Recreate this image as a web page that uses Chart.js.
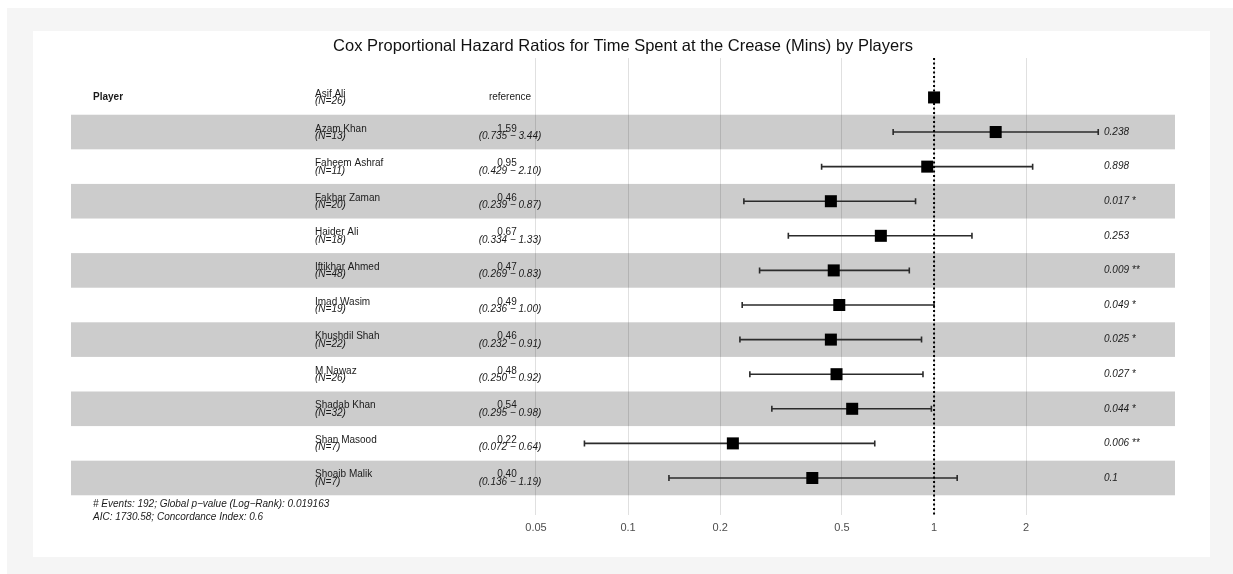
<!DOCTYPE html>
<html>
<head>
<meta charset="utf-8">
<title>Cox hazard ratios by player</title>
<script src="https://cdn.jsdelivr.net/npm/chart.js@4.4.1/dist/chart.umd.min.js"></script>
<style>
  body { margin: 0; background: #fff; }
  #frame { position: absolute; left: 7px; top: 8px; width: 1226px; height: 566px; background: #f5f5f5; }
  #card { position: absolute; left: 33px; top: 31px; width: 1177px; height: 526px; background: #fff; }
  #forestChart { position: absolute; left: 0; top: 0; }
</style>
</head>
<body>
<div id="frame"></div>
<div id="card"></div>
<canvas id="forestChart" width="1233" height="574"></canvas>
<script>
// model output, one entry per player (first one is the reference level)
const players = ["Asif Ali", "Azam Khan", "Faheem Ashraf", "Fakhar Zaman", "Haider Ali", "Iftikhar Ahmed",
  "Imad Wasim", "Khushdil Shah", "M Nawaz", "Shadab Khan", "Shan Masood", "Shoaib Malik"];
const counts = [26, 13, 11, 20, 18, 48, 19, 22, 26, 32, 7, 7];
const hazardRatio = [1, 1.59, 0.95, 0.46, 0.67, 0.47, 0.49, 0.46, 0.48, 0.54, 0.22, 0.40];
const ciLow = [null, 0.735, 0.429, 0.239, 0.334, 0.269, 0.236, 0.232, 0.250, 0.295, 0.072, 0.136];
const ciHigh = [null, 3.44, 2.10, 0.87, 1.33, 0.83, 1.00, 0.91, 0.92, 0.98, 0.64, 1.19];
const pValues = [null, 0.238, 0.898, 0.017, 0.253, 0.009, 0.049, 0.025, 0.027, 0.044, 0.006, 0.1];

const xTicks = [0.05, 0.1, 0.2, 0.5, 1, 2];
const refLine = 1;

const chartTitle = "Cox Proportional Hazard Ratios for Time Spent at the Crease (Mins) by Players";
const varName = "Player";
const footerLines = [
  "# Events: 192; Global p\u2212value (Log\u2212Rank): 0.019163",
  "AIC: 1730.58; Concordance Index: 0.6"
];

const FONT = '"Liberation Sans", Arial, Helvetica, sans-serif';

function stars(p) {
  if (p < 0.001) return " ***";
  if (p < 0.01) return " **";
  if (p < 0.05) return " *";
  return "";
}

// grey stripes behind every second row, under the grid
const rowBands = {
  id: "rowBands",
  beforeDraw(chart) {
    const { ctx, chartArea, scales: { y } } = chart;
    ctx.save();
    ctx.fillStyle = "#cccccc";
    players.forEach((p, i) => {
      if (i % 2 === 0) return;
      const top = y.getPixelForValue(i - 0.5);
      const bottom = y.getPixelForValue(i + 0.5);
      ctx.fillRect(chartArea.left, top, chartArea.right - chartArea.left, bottom - top);
    });
    ctx.restore();
  }
};

// confidence intervals + dotted line at HR = 1
const errorBars = {
  id: "errorBars",
  beforeDatasetsDraw(chart) {
    const { ctx, chartArea, scales: { x, y } } = chart;
    ctx.save();
    ctx.strokeStyle = "#2b2b2b";
    ctx.lineWidth = 1.6;
    players.forEach((p, i) => {
      if (ciLow[i] == null) return;
      const x0 = x.getPixelForValue(ciLow[i]);
      const x1 = x.getPixelForValue(ciHigh[i]);
      const yy = y.getPixelForValue(i);
      ctx.beginPath();
      ctx.moveTo(x0, yy); ctx.lineTo(x1, yy);
      ctx.moveTo(x0, yy - 3); ctx.lineTo(x0, yy + 3);
      ctx.moveTo(x1, yy - 3); ctx.lineTo(x1, yy + 3);
      ctx.stroke();
    });
    const xr = x.getPixelForValue(refLine);
    ctx.strokeStyle = "#000";
    ctx.lineWidth = 2;
    ctx.setLineDash([2, 2.5]);
    ctx.beginPath();
    ctx.moveTo(xr, chartArea.top);
    ctx.lineTo(xr, chartArea.bottom);
    ctx.stroke();
    ctx.restore();
  }
};

// table columns: variable, player + N, estimate + CI, p-value, footer
const tableText = {
  id: "tableText",
  afterDatasetsDraw(chart) {
    const { ctx, scales: { y } } = chart;
    const nameX = 315, estX = 510, pX = 1104;
    ctx.save();
    ctx.fillStyle = "#1a1a1a";

    ctx.font = "bold 10px " + FONT;
    ctx.textAlign = "left";
    ctx.textBaseline = "middle";
    ctx.fillText(varName, 93, y.getPixelForValue(0));

    players.forEach((name, i) => {
      const yy = y.getPixelForValue(i);
      ctx.textBaseline = "alphabetic";
      ctx.textAlign = "left";
      ctx.font = "10px " + FONT;
      ctx.fillText(name, nameX, yy - 0.5);
      ctx.font = "italic 10px " + FONT;
      ctx.fillText("(N=" + counts[i] + ")", nameX, yy + 7);

      ctx.textAlign = "center";
      if (ciLow[i] == null) {
        ctx.font = "10px " + FONT;
        ctx.textBaseline = "middle";
        ctx.fillText("reference", estX, yy);
      } else {
        ctx.font = "10px " + FONT;
        ctx.fillText(hazardRatio[i].toFixed(2), estX - 3, yy - 0.5);
        ctx.font = "italic 10px " + FONT;
        ctx.fillText("(" + ciLow[i].toFixed(3) + " \u2212 " + ciHigh[i].toFixed(2) + ")", estX, yy + 7);
      }

      if (pValues[i] != null) {
        ctx.textAlign = "left";
        ctx.textBaseline = "middle";
        ctx.font = "italic 10px " + FONT;
        ctx.fillText(String(pValues[i]) + stars(pValues[i]), pX, yy);
      }
    });

    ctx.textAlign = "left";
    ctx.textBaseline = "alphabetic";
    ctx.font = "italic 10px " + FONT;
    ctx.fillText(footerLines[0], 93, 507);
    ctx.fillText(footerLines[1], 93, 520);
    ctx.restore();
  }
};

const ctx = document.getElementById("forestChart").getContext("2d");
new Chart(ctx, {
  type: "scatter",
  data: {
    datasets: [{
      label: "Hazard ratio",
      data: hazardRatio.map((v, i) => ({ x: v, y: i })),
      pointStyle: "rect",
      pointRadius: 8.5,
      pointHoverRadius: 8.5,
      backgroundColor: "#000",
      borderWidth: 0
    }]
  },
  options: {
    responsive: false,
    devicePixelRatio: 1,
    animation: false,
    layout: { padding: { left: 71, right: 58, top: 0, bottom: 34 } },
    plugins: {
      legend: { display: false },
      tooltip: { enabled: false },
      title: {
        display: true,
        text: chartTitle,
        color: "#111",
        font: { family: FONT, size: 16.5, weight: "normal" },
        padding: { top: 37, bottom: 1.2 }
      }
    },
    scales: {
      x: {
        type: "logarithmic",
        min: 0.001511,
        max: 6.13,
        border: { display: false },
        grid: { color: "rgba(0,0,0,0.12)", lineWidth: 1, drawTicks: false },
        afterBuildTicks: s => { s.ticks = xTicks.map(v => ({ value: v })); },
        afterFit: s => { s.height = 25; },
        ticks: {
          autoSkip: false,
          maxRotation: 0,
          padding: 6,
          color: "#4d4d4d",
          font: { family: FONT, size: 11 },
          callback: v => String(v)
        }
      },
      y: {
        type: "linear",
        reverse: true,
        min: -1.14,
        max: 12.07,
        display: false
      }
    }
  },
  plugins: [rowBands, errorBars, tableText]
});
</script>
</body>
</html>
